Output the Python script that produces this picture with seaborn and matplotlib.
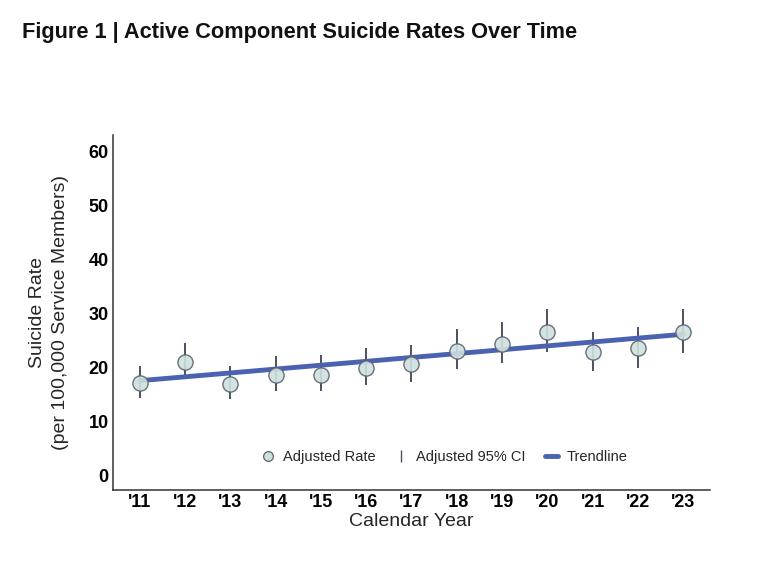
import matplotlib
matplotlib.use("Agg")
import matplotlib.pyplot as plt
from matplotlib.lines import Line2D
import seaborn as sns
import pandas as pd

years = [2011, 2012, 2013, 2014, 2015, 2016, 2017, 2018, 2019, 2020, 2021, 2022, 2023]
year_labels = ["'11", "'12", "'13", "'14", "'15", "'16", "'17", "'18", "'19", "'20", "'21", "'22", "'23"]
rate = [17.0, 20.9, 16.9, 18.5, 18.5, 19.8, 20.5, 23.0, 24.3, 26.5, 22.8, 23.5, 26.5]
ci_low = [14.2, 18.1, 14.1, 15.6, 15.6, 16.7, 17.2, 19.6, 20.8, 22.8, 19.3, 19.9, 22.6]
ci_high = [20.2, 24.5, 20.2, 22.0, 22.2, 23.5, 24.2, 27.0, 28.3, 30.7, 26.5, 27.5, 30.7]
trend_years = [2011, 2023]
trend_vals = [17.5, 26.1]

df = pd.DataFrame({"year": years, "rate": rate, "lo": ci_low, "hi": ci_high})
trend = pd.DataFrame({"year": trend_years, "val": trend_vals})

sns.set_style("white")
plt.rcParams["font.family"] = ["Liberation Sans", "DejaVu Sans"]

fig = plt.figure(figsize=(7.62, 5.66), dpi=100)
ax = fig.add_axes([0.148, 0.134, 0.784, 0.627])

ci_color = "#4b5160"
line_color = "#4a62b0"
pt_fill = "#cfe0de"
pt_edge = "#5a6270"

ax.vlines(df["year"], df["lo"], df["hi"], color=ci_color, lw=1.4, zorder=1)
sns.lineplot(data=trend, x="year", y="val", ax=ax, color=line_color, lw=3.5, zorder=2)
sns.scatterplot(data=df, x="year", y="rate", ax=ax, s=120, color=pt_fill,
                edgecolor=pt_edge, linewidth=1.0, alpha=0.9, zorder=3)

ax.set_xlim(2010.4, 2023.6)
ax.set_ylim(-2.8, 63)
ax.set_xticks(years)
ax.set_xticklabels(year_labels, fontweight="bold", fontsize=13)
ax.set_yticks([0, 10, 20, 30, 40, 50, 60])
ax.set_yticklabels(["0", "10", "20", "30", "40", "50", "60"], fontweight="bold", fontsize=13)
ax.tick_params(axis="both", length=0, pad=3, colors="black")

for s in ["top", "right"]:
    ax.spines[s].set_visible(False)
for s in ["left", "bottom"]:
    ax.spines[s].set_color("#333333")
    ax.spines[s].set_linewidth(1.1)

ax.set_xlabel("Calendar Year", fontsize=14, labelpad=1)
ax.set_ylabel("Suicide Rate\n(per 100,000 Service Members)", fontsize=14, labelpad=14,
              linespacing=1.45)

handles = [
    Line2D([], [], marker="o", ls="none", markersize=7, markerfacecolor=pt_fill,
           markeredgecolor=pt_edge, markeredgewidth=0.9),
    Line2D([], [], marker="|", ls="none", markersize=9, color=ci_color),
    Line2D([], [], color=line_color, lw=3.5),
]
ax.legend(handles, ["Adjusted Rate", "Adjusted 95% CI", "Trendline"], ncol=3,
          frameon=False, loc="center", bbox_to_anchor=(0.555, 0.093), fontsize=10.5,
          handlelength=0.9, columnspacing=1.3, handletextpad=0.6)

fig.text(0.029, 0.942, "Figure 1 | Active Component Suicide Rates Over Time",
         fontsize=15.7, fontweight="bold", color="#111111",
         va="center", ha="left")

fig.savefig("out.png", dpi=100)
